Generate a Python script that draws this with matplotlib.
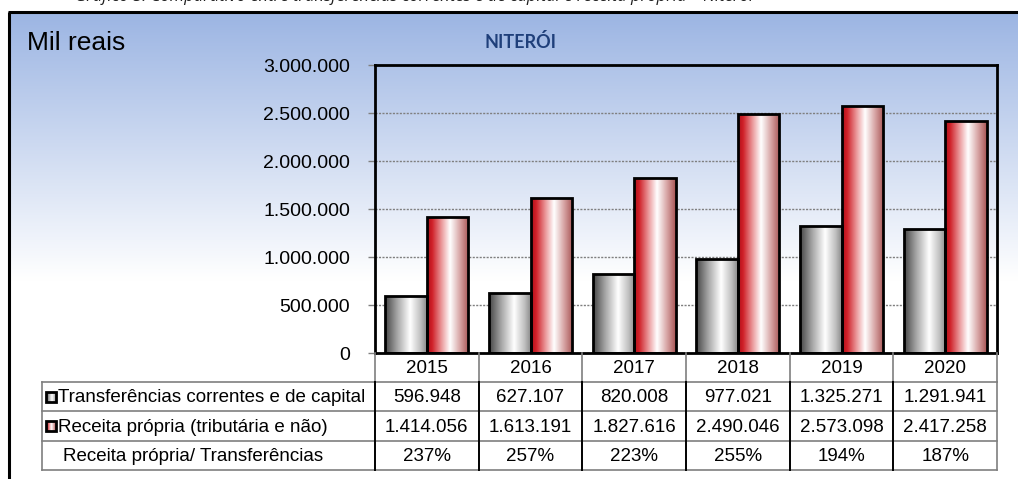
import numpy as np
import matplotlib
matplotlib.use("Agg")
import matplotlib.pyplot as plt
from matplotlib.colors import LinearSegmentedColormap
from matplotlib.ticker import FuncFormatter

# ---- data -------------------------------------------------------------
years = ["2015", "2016", "2017", "2018", "2019", "2020"]
transferencias = [596948, 627107, 820008, 977021, 1325271, 1291941]
receita_propria = [1414056, 1613191, 1827616, 2490046, 2573098, 2417258]
row_labels = ["Transferências correntes e de capital",
              "Receita própria (tributária e não)",
              "Receita própria/ Transferências"]
yticks = [0, 500000, 1000000, 1500000, 2000000, 2500000, 3000000]
title = "NITERÓI"
unit_label = "Mil reais"
caption = ("Gráfico 5: Comparativo entre transferências correntes e de capital "
           "e receita própria – Niterói")

plt.rcParams["font.family"] = ["Liberation Sans", "DejaVu Sans"]

W, H = 1018, 479
fig = plt.figure(figsize=(W / 100, H / 100), dpi=100)


def fx(px):
    return px / W


def fy(py):
    return 1 - py / H


def fmt_br(v):
    return f"{v:,.0f}".replace(",", ".")


# ---- background panel with vertical blue-to-white gradient -----------
bg = fig.add_axes([0, 0, 1, 1], zorder=-10)
bg.set_xlim(0, W)
bg.set_ylim(H, 0)
bg.axis("off")
top_rgb = np.array([156, 181, 227]) / 255
ys = np.linspace(0, 1, 256)
t = np.clip((ys * (H - 13)) / (280 - 13), 0, 1)
grad = top_rgb[None, :] * (1 - t[:, None]) + np.ones(3)[None, :] * t[:, None]
bg.imshow(grad[:, None, :], extent=[9, W, H, 13], aspect="auto",
          interpolation="bilinear")
bg.plot([9, 9], [H, 12], color="black", lw=2.2, solid_capstyle="butt")
bg.plot([8, W], [12, 12], color="black", lw=2.2, solid_capstyle="butt")
bg.text(75, 1, caption, fontsize=12, style="italic", va="baseline",
        ha="left", color="#202020", family=["Open Sans", "DejaVu Sans"])
bg.text(27, 43, unit_label, fontsize=19, va="center", ha="left")
bg.text(521, 42, title, fontsize=13, fontweight="bold", va="center",
        ha="center", color="#1F3F7A", family=["Lato", "DejaVu Sans"])

# ---- main bar chart ---------------------------------------------------
ax = fig.add_axes([fx(375), fy(353), fx(997) - fx(375), (353 - 65) / H])
ax.set_facecolor("none")
x = np.arange(len(years))
bw = 0.4
b1 = ax.bar(x - bw / 2, transferencias, width=bw, edgecolor="black",
            linewidth=2.0, facecolor="none", zorder=3)
b2 = ax.bar(x + bw / 2, receita_propria, width=bw, edgecolor="black",
            linewidth=2.0, facecolor="none", zorder=3)

gray_cmap = LinearSegmentedColormap.from_list(
    "cyl_gray", [(0, "#454545"), (0.3, "#a8a8a8"), (0.6, "#ffffff"),
                 (0.85, "#c0c0c0"), (1, "#8a8a8a")])
red_cmap = LinearSegmentedColormap.from_list(
    "cyl_red", [(0, "#b0101a"), (0.12, "#cf2028"), (0.35, "#eb9a9c"),
                (0.55, "#ffffff"), (0.78, "#d9a8a8"), (1, "#a85454")])
strip = np.linspace(0, 1, 256)[None, :]


def fill_gradient(bars, cmap):
    for b in bars:
        x0, y0 = b.get_x(), b.get_y()
        im = ax.imshow(strip, cmap=cmap, aspect="auto",
                       extent=[x0, x0 + b.get_width(), y0, y0 + b.get_height()],
                       zorder=2.5, interpolation="bilinear")
        im.set_clip_path(b)


fill_gradient(b1, gray_cmap)
fill_gradient(b2, red_cmap)

ax.set_xlim(-0.5, len(years) - 0.5)
ax.set_ylim(0, 3000000)
ax.set_yticks(yticks)
ax.yaxis.set_major_formatter(FuncFormatter(lambda v, p: fmt_br(v)))
ax.tick_params(axis="y", labelsize=14, length=5, color="#808080",
               width=1, pad=13)
ax.set_xticks(np.arange(len(years) + 1) - 0.5)
ax.tick_params(axis="x", labelbottom=False, length=0)
ax.yaxis.grid(True, linestyle=(0, (1.5, 1)), color="#7f7f7f", lw=1.0)
ax.set_axisbelow(True)
for s in ax.spines.values():
    s.set_linewidth(2.0)
    s.set_color("black")

# ---- data table under the chart --------------------------------------
colw = (997 - 375) / len(years)
tab = fig.add_axes([fx(42), fy(471), fx(997) - fx(42), (471 - 353) / H])
rows = [353, 382, 411, 441, 470]
left = -(375 - 42) / colw - 0.5
right = len(years) - 0.5
tab.axis("off")
gray = "#7f7f7f"

# header cell separators
for i in range(len(years) + 1):
    tab.plot([i - 0.5, i - 0.5], [rows[0], rows[1]], color=gray, lw=1.2,
             clip_on=False)
# horizontal rules
for r in rows[1:]:
    tab.plot([left, right], [r, r], color=gray, lw=1.2, clip_on=False)
# outer sides of the body
tab.plot([left, left], [rows[1], rows[-1]], color=gray, lw=1.2, clip_on=False)
tab.plot([right, right], [rows[1], rows[-1]], color=gray, lw=1.2,
         clip_on=False)
# body column separators
for i in range(len(years)):
    tab.plot([i - 0.5, i - 0.5], [rows[1], rows[-1]], color="black", lw=1.4,
             clip_on=False)

ratio = [f"{round(100 * r / t_)}%" for r, t_ in zip(receita_propria,
                                                     transferencias)]
body = [[fmt_br(v) for v in transferencias],
        [fmt_br(v) for v in receita_propria],
        ratio]
fs = 13.5
for i, yr in enumerate(years):
    tab.text(i, (rows[0] + rows[1]) / 2 + 1, yr, ha="center", va="center",
             fontsize=fs)
for r, vals in enumerate(body):
    yc = (rows[r + 1] + rows[r + 2]) / 2 + 1
    for i, v in enumerate(vals):
        tab.text(i, yc, v, ha="center", va="center", fontsize=fs)

# legend keys in the row labels
key_w = 10 / colw
for r, cmap in enumerate([gray_cmap, red_cmap]):
    yc = (rows[r + 1] + rows[r + 2]) / 2
    kx0 = left + 4 / colw
    tab.imshow(strip, cmap=cmap, aspect="auto",
               extent=[kx0, kx0 + key_w, yc + 5, yc - 5], zorder=3)
    tab.add_patch(plt.Rectangle((kx0, yc - 5), key_w, 10, fill=False,
                                edgecolor="black", lw=2.0, zorder=4))
    tab.text(kx0 + key_w + 2 / colw, yc + 1, row_labels[r], ha="left",
             va="center", fontsize=fs)
tab.text(left + 21 / colw, (rows[3] + rows[4]) / 2 + 1, row_labels[2],
         ha="left", va="center", fontsize=fs)
tab.set_xlim(left, right)
tab.set_ylim(471, 353)

fig.savefig("out.png", dpi=100)
